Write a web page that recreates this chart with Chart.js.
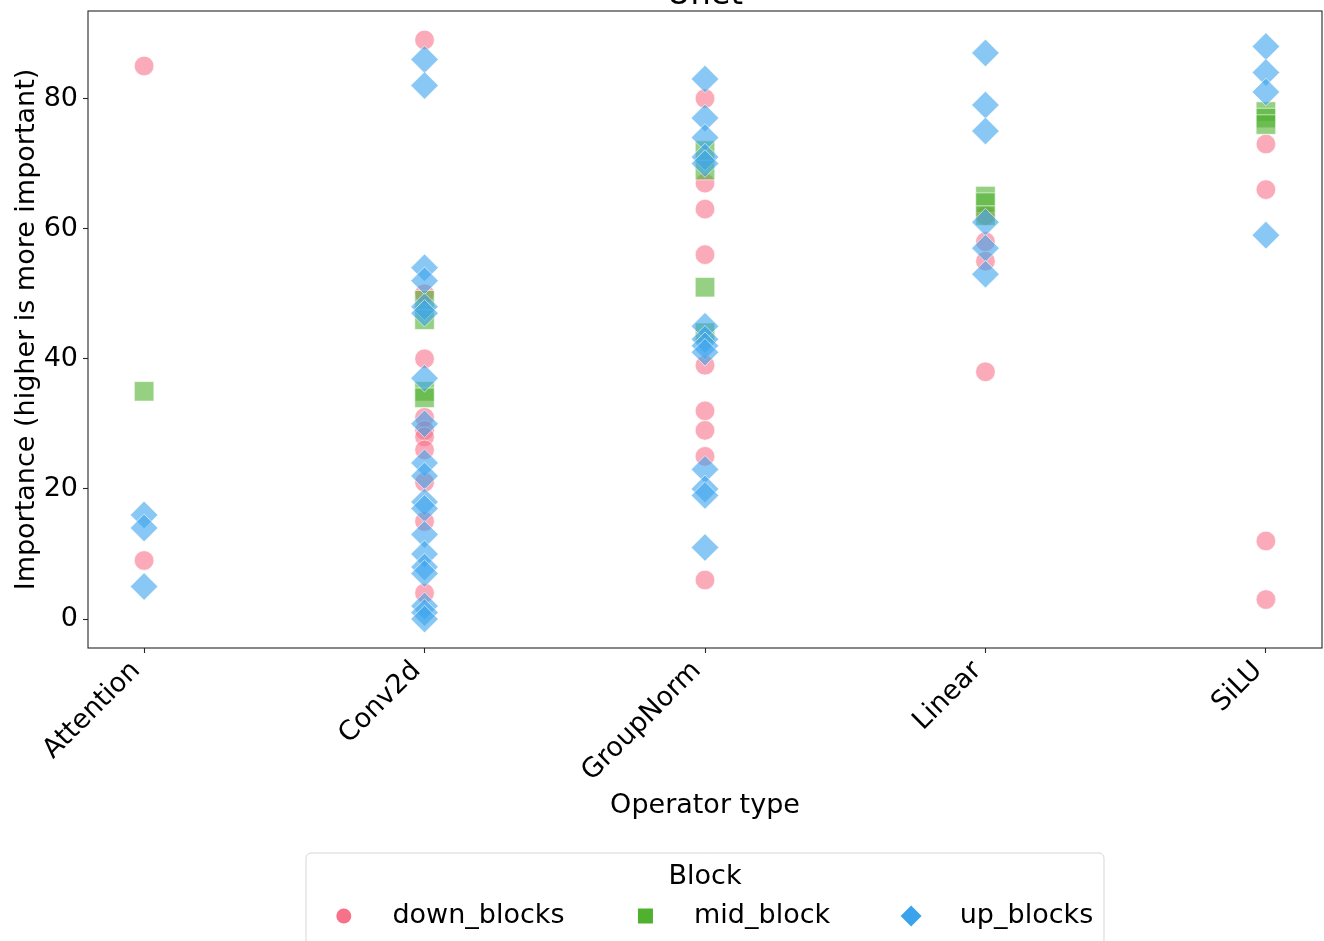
<!DOCTYPE html>
<html>
<head>
<meta charset="utf-8">
<title>Unet</title>
<script src="https://cdn.jsdelivr.net/npm/chart.js@4.4.1/dist/chart.umd.min.js"></script>
<style>
  html, body { margin: 0; padding: 0; background: #ffffff; }
  #wrap { width: 1324px; height: 941px; position: relative; }
</style>
</head>
<body>
<div id="wrap"><canvas id="chart" width="1324" height="941"></canvas></div>
<script>
// Operator types on the x axis
const categories = ['Attention', 'Conv2d', 'GroupNorm', 'Linear', 'SiLU'];

// Importance scores per operator type (one inner list per category)
const downBlocks = [
  [85, 9],
  [89, 50, 40, 31, 29, 28, 26, 21, 15, 4],
  [80, 67, 63, 56, 39, 32, 29, 25, 6],
  [62, 58, 55, 38],
  [73, 66, 12, 3]
];
const midBlock = [
  [35],
  [49, 46, 35, 34],
  [72, 69, 51, 44],
  [65, 64, 62],
  [78, 77, 76]
];
const upBlocks = [
  [16, 14, 5],
  [86, 82, 54, 52, 48, 47, 37, 30, 24, 22, 18, 17, 13, 10, 8, 7, 2, 1, 0],
  [83, 77, 74, 71, 70, 45, 43, 42, 41, 23, 20, 19, 11],
  [87, 79, 75, 61, 57, 53],
  [88, 84, 81, 59]
];

const yTicks = [0, 20, 40, 60, 80];

const FONT = 'DejaVu Sans';
const FS = 27;

function toPoints(groups) {
  const pts = [];
  groups.forEach((vals, ci) => vals.forEach(v => pts.push({ x: ci, y: v })));
  return pts;
}

const palette = {
  down: [247, 113, 137],
  mid: [80, 177, 49],
  up: [59, 163, 236]
};
const rgba = (c, a) => `rgba(${c[0]},${c[1]},${c[2]},${a})`;

// Box around the plotting area
const framePlugin = {
  id: 'frame',
  afterDatasetsDraw(chart) {
    const { ctx, chartArea: a } = chart;
    ctx.save();
    ctx.strokeStyle = '#262626';
    ctx.lineWidth = 1.1;
    ctx.strokeRect(a.left, a.top, a.right - a.left, a.bottom - a.top);
    ctx.restore();
  }
};

// Chart title, centred over the axes
const titlePlugin = {
  id: 'topTitle',
  afterDraw(chart) {
    const { ctx, chartArea: a } = chart;
    ctx.save();
    ctx.fillStyle = '#000';
    ctx.font = `32px "${FONT}"`;
    ctx.textAlign = 'center';
    ctx.textBaseline = 'alphabetic';
    ctx.fillText('Unet', (a.left + a.right) / 2, 4);
    ctx.restore();
  }
};

// Framed legend with a title, laid out in one row below the axis
const legendPlugin = {
  id: 'blockLegend',
  afterDraw(chart) {
    const { ctx, chartArea: a } = chart;
    const ds = chart.data.datasets;
    const handleLen = 2 * FS, textPad = 0.8 * FS, colSpace = 2 * FS, borderPad = 0.4 * FS;
    ctx.save();
    ctx.font = `${FS}px "${FONT}"`;
    const widths = ds.map(d => ctx.measureText(d.label).width);
    const total = 2 * borderPad + widths.reduce((s, w) => s + handleLen + textPad + w, 0) + colSpace * (ds.length - 1);
    const cx = (a.left + a.right) / 2;
    const left = cx - total / 2;
    const top = 853;
    const boxH = 120;
    // frame
    const r = 5;
    ctx.beginPath();
    ctx.moveTo(left + r, top);
    ctx.lineTo(left + total - r, top);
    ctx.arcTo(left + total, top, left + total, top + r, r);
    ctx.lineTo(left + total, top + boxH);
    ctx.lineTo(left, top + boxH);
    ctx.lineTo(left, top + r);
    ctx.arcTo(left, top, left + r, top, r);
    ctx.closePath();
    ctx.fillStyle = 'rgba(255,255,255,0.8)';
    ctx.fill();
    ctx.strokeStyle = '#d6d6d6';
    ctx.lineWidth = 1;
    ctx.stroke();
    // title
    ctx.fillStyle = '#000';
    ctx.textAlign = 'center';
    ctx.textBaseline = 'middle';
    ctx.fillText('Block', cx, 877);
    // entries
    const y = 916;
    let x = left + borderPad;
    ds.forEach((d, i) => {
      const mx = x + handleLen / 2;
      ctx.fillStyle = d.legendColor;
      ctx.beginPath();
      if (d.pointStyle === 'circle') {
        ctx.arc(mx, y, 7.5, 0, Math.PI * 2);
      } else if (d.pointStyle === 'rect') {
        ctx.rect(mx - 7.5, y - 7.5, 15, 15);
      } else {
        ctx.moveTo(mx, y - 10.5);
        ctx.lineTo(mx + 10.5, y);
        ctx.lineTo(mx, y + 10.5);
        ctx.lineTo(mx - 10.5, y);
        ctx.closePath();
      }
      ctx.fill();
      ctx.fillStyle = '#000';
      ctx.textAlign = 'left';
      ctx.fillText(d.label, x + handleLen + textPad, y);
      x += handleLen + textPad + widths[i] + colSpace;
    });
    ctx.restore();
  }
};

Chart.defaults.font.family = FONT;
Chart.defaults.color = '#000';

new Chart(document.getElementById('chart'), {
  type: 'scatter',
  data: {
    datasets: [
      {
        label: 'down_blocks',
        data: toPoints(downBlocks),
        pointStyle: 'circle',
        pointRadius: 9.8,
        pointHoverRadius: 9.8,
        backgroundColor: rgba(palette.down, 0.6),
        borderColor: 'rgba(255,255,255,0.6)',
        borderWidth: 1,
        legendColor: rgba(palette.down, 1),
        order: 3
      },
      {
        label: 'mid_block',
        data: toPoints(midBlock),
        pointStyle: 'rect',
        pointRadius: 13.8,
        pointHoverRadius: 13.8,
        backgroundColor: rgba(palette.mid, 0.6),
        borderColor: 'rgba(255,255,255,0.6)',
        borderWidth: 1,
        legendColor: rgba(palette.mid, 1),
        order: 2
      },
      {
        label: 'up_blocks',
        data: toPoints(upBlocks),
        pointStyle: 'rectRot',
        pointRadius: 13.8,
        pointHoverRadius: 13.8,
        backgroundColor: rgba(palette.up, 0.6),
        borderColor: 'rgba(255,255,255,0.6)',
        borderWidth: 1,
        legendColor: rgba(palette.up, 1),
        order: 1
      }
    ]
  },
  options: {
    responsive: false,
    animation: false,
    devicePixelRatio: 1,
    layout: { autoPadding: false, padding: { left: 0, right: 2, top: 11, bottom: 101 } },
    plugins: {
      legend: { display: false },
      tooltip: { enabled: false },
      title: { display: false }
    },
    scales: {
      x: {
        type: 'linear',
        min: -0.2,
        max: 4.2,
        afterFit(scale) {
          scale.height = 192;
          scale.paddingLeft = 0;
          scale.paddingRight = 0;
        },
        afterBuildTicks(scale) { scale.ticks = categories.map((_, i) => ({ value: i })); },
        ticks: {
          autoSkip: false,
          minRotation: 45,
          maxRotation: 45,
          padding: 2,
          labelOffset: -8,
          font: { size: FS },
          callback: (v) => categories[v]
        },
        grid: { display: true, drawOnChartArea: false, drawTicks: true, tickLength: 5, tickWidth: 1.1, tickColor: '#262626' },
        border: { display: false },
        title: { display: true, text: 'Operator type', font: { size: FS }, padding: { top: 0, bottom: 18 } }
      },
      y: {
        type: 'linear',
        min: -4.45,
        max: 93.45,
        afterFit(scale) {
          scale.width = 88;
          scale.paddingTop = 0;
          scale.paddingBottom = 0;
        },
        afterBuildTicks(scale) { scale.ticks = yTicks.map(v => ({ value: v })); },
        ticks: {
          padding: 5,
          font: { size: FS },
          callback: (v) => String(v)
        },
        grid: { display: true, drawOnChartArea: false, drawTicks: true, tickLength: 5, tickWidth: 1.1, tickColor: '#262626' },
        border: { display: false },
        title: { display: true, text: 'Importance (higher is more important)', font: { size: FS }, padding: { top: 11, bottom: 0 } }
      }
    }
  },
  plugins: [framePlugin, titlePlugin, legendPlugin]
});
</script>
</body>
</html>
